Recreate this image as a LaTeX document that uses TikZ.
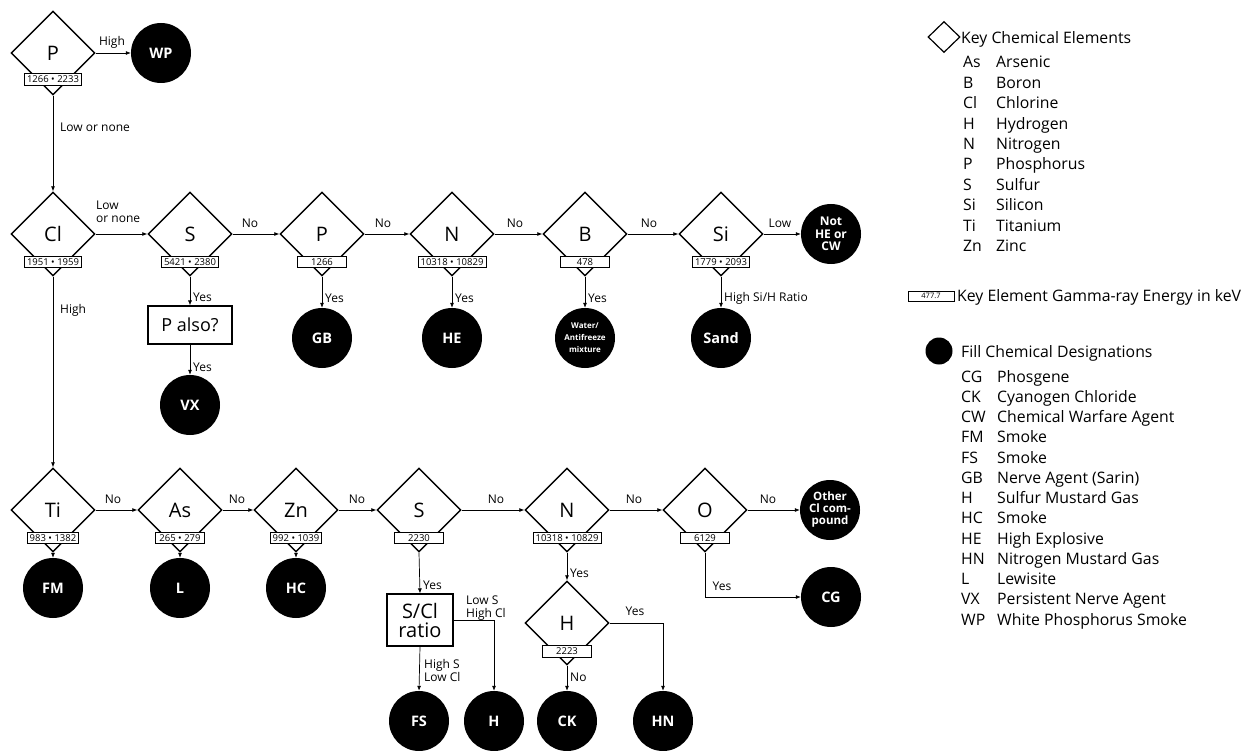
\documentclass[tikz,border=0pt]{standalone}
\usepackage{fontspec}
\setmainfont{Open Sans}
\usetikzlibrary{shapes.geometric,arrows.meta,calc}
\begin{document}
\begin{tikzpicture}[x=1pt,y=-1pt,
 dia/.style={diamond,draw,line width=1.4pt,minimum width=84pt,minimum height=84pt,inner sep=0pt,fill=white,font=\fontsize{20}{22}\selectfont},
 val/.style={draw,line width=0.6pt,fill=white,minimum width=49pt,minimum height=11.5pt,inner xsep=2.5pt,inner ysep=0pt,font=\fontsize{9.5}{9.5}\selectfont},
 res/.style={circle,fill=black,text=white,minimum size=60pt,inner sep=0pt,font=\bfseries\fontsize{14.5}{15}\selectfont,align=center},
 arr/.style={-{Latex[length=5pt,width=4pt]},line width=0.7pt},
 lab/.style={font=\fontsize{12}{13}\selectfont,inner sep=0pt},
 leg/.style={font=\fontsize{15.8}{17}\selectfont,anchor=base west,inner sep=0pt},
 qbox/.style={draw,line width=1.2pt,fill=white,align=center,inner sep=2pt}]
\useasboundingbox (0,0) rectangle (1257,751);

% ---------- top ----------
\node[dia] (P0) at (53,53) {P};
\node[val] (P0v) at (53,79.5) {1266 • 2233};
\node[res] (WP) at (161,53) {WP};

% ---------- row 1 ----------
\node[dia] (Cl) at (53,234) {Cl};
\node[val] (Clv) at (53,262) {1951 • 1959};
\node[dia] (S1) at (190,234) {S};
\node[val] (S1v) at (190,262) {5421 • 2380};
\node[dia] (P1) at (322,234) {P};
\node[val] (P1v) at (322,262) {1266};
\node[dia] (N1) at (452,234) {N};
\node[val] (N1v) at (452,262) {10318 • 10829};
\node[dia] (B1) at (585,234) {B};
\node[val] (B1v) at (585,262) {478};
\node[dia] (Si) at (721,234) {Si};
\node[val] (Siv) at (721,262) {1779 • 2093};
\node[res,font=\bfseries\fontsize{12}{12.5}\selectfont] (NotHE) at (831,234) {Not\\HE or\\CW};

\node[qbox,minimum width=84pt,minimum height=38pt,font=\fontsize{18}{20}\selectfont] (Palso) at (190,325) {P also?};
\node[res] (VX) at (190,405) {VX};
\node[res] (GB) at (322,338) {GB};
\node[res] (HE) at (452,338) {HE};
\node[res,font=\bfseries\fontsize{8}{12}\selectfont] (WA) at (585,338) {Water/\\Antifreeze\\mixture};
\node[res] (Sand) at (721,338) {Sand};

% ---------- row 2 ----------
\node[dia] (Ti) at (53,510) {Ti};
\node[val] (Tiv) at (53,538) {983 • 1382};
\node[dia] (As) at (180,510) {As};
\node[val] (Asv) at (180,538) {265 • 279};
\node[dia] (Zn) at (296,510) {Zn};
\node[val] (Znv) at (296,538) {992 • 1039};
\node[dia] (S2) at (419,510) {S};
\node[val] (S2v) at (419,538) {2230};
\node[dia] (N2) at (567,510) {N};
\node[val] (N2v) at (567,538) {10318 • 10829};
\node[dia] (O2) at (705,510) {O};
\node[val] (O2v) at (705,538) {6129};
\node[res,font=\bfseries\fontsize{11.5}{12}\selectfont] (Other) at (830,510) {Other\\Cl com-\\pound};

\node[res] (FM) at (53,588) {FM};
\node[res] (L) at (180,588) {L};
\node[res] (HC) at (296,588) {HC};
\node[qbox,minimum width=66pt,minimum height=52pt,font=\fontsize{20}{19}\selectfont] (SCl) at (420,620) {S/Cl\\ratio};
\node[dia] (Hd) at (567,623) {H};
\node[val] (Hdv) at (567,651.5) {2223};
\node[res] (FS) at (419,721) {FS};
\node[res] (Hm) at (494,721) {H};
\node[res] (CK) at (567,721) {CK};
\node[res] (HN) at (663,721) {HN};
\node[res] (CG) at (831,597) {CG};

% ---------- connectors ----------
\draw[arr] (P0.east) -- (WP.west);
\draw[arr] (P0.south) -- (Cl.north);
\draw[arr] (Cl.east) -- (S1.west);
\draw[arr] (S1.east) -- (P1.west);
\draw[arr] (P1.east) -- (N1.west);
\draw[arr] (N1.east) -- (B1.west);
\draw[arr] (B1.east) -- (Si.west);
\draw[arr] (Si.east) -- (NotHE.west);
\draw[arr] (S1.south) -- (Palso.north);
\draw[arr] (Palso.south) -- (VX.north);
\draw[arr] (P1.south) -- (GB.north);
\draw[arr] (N1.south) -- (HE.north);
\draw[arr] (B1.south) -- (WA.north);
\draw[arr] (Si.south) -- (Sand.north);
\draw[arr] (Cl.south) -- (Ti.north);

\draw[arr] (Ti.east) -- (As.west);
\draw[arr] (As.east) -- (Zn.west);
\draw[arr] (Zn.east) -- (S2.west);
\draw[arr] (S2.east) -- (N2.west);
\draw[arr] (N2.east) -- (O2.west);
\draw[arr] (O2.east) -- (Other.west);
\draw[arr] (Ti.south) -- (FM.north);
\draw[arr] (As.south) -- (L.north);
\draw[arr] (Zn.south) -- (HC.north);
\draw[arr] (S2.south) -- (SCl.north);
\draw[arr] (SCl.south) -- (FS.north);
\draw[arr] (SCl.east) -| (Hm.north);
\draw[arr] (N2.south) -- (Hd.north);
\draw[arr] (Hd.south) -- (CK.north);
\draw[arr] (Hd.east) -| (HN.north);
\draw[arr] (O2.south) |- (CG.west);

% ---------- labels ----------
\node[lab] (l1) at (112,42) {High};
\node[lab,anchor=west] (l2) at (60,127) {Low or none};
\node[lab,anchor=north west,align=left] (l3) at (96,201) {Low\\or none};
\node[lab] (l4) at (250,223) {No};
\node[lab] (l5) at (383,223) {No};
\node[lab] (l6) at (515,223) {No};
\node[lab] (l7) at (649,223) {No};
\node[lab] (l8) at (780,223) {Low};
\node[lab,anchor=west] (l9) at (193,297) {Yes};
\node[lab,anchor=west] (l10) at (325,298) {Yes};
\node[lab,anchor=west] (l11) at (455,298) {Yes};
\node[lab,anchor=west] (l12) at (588,298) {Yes};
\node[lab,anchor=west] (l13) at (724,298) {High Si/H Ratio};
\node[lab,anchor=west] (l14) at (193,367) {Yes};
\node[lab,anchor=west] (l15) at (60,310) {High};
\node[lab] (l16) at (113,499) {No};
\node[lab] (l17) at (237,499) {No};
\node[lab] (l18) at (357,499) {No};
\node[lab] (l19) at (496,499) {No};
\node[lab] (l20) at (634,499) {No};
\node[lab] (l21) at (768,499) {No};
\node[lab,anchor=west] (l22) at (56,575) {Yes};
\node[lab,anchor=west] (l23) at (183,575) {Yes};
\node[lab,anchor=west] (l24) at (299,575) {Yes};
\node[lab,anchor=west] (l25) at (423,585) {Yes};
\node[lab,anchor=west,align=left] (l26) at (466,608) {Low S\\High Cl};
\node[lab,anchor=west,align=left] (l27) at (424,670) {High S\\Low Cl};
\node[lab,anchor=west] (l28) at (570,573) {Yes};
\node[lab,anchor=west] (l29) at (570,677) {No};
\node[lab] (l30) at (635,611) {Yes};
\node[lab] (l31) at (722,586) {Yes};

% ---------- legend ----------
\node[diamond,draw,line width=1.2pt,minimum width=32pt,minimum height=31pt,inner sep=0pt] (kd) at (944,37) {};
\node[leg] (kt) at (961,44) {Key Chemical Elements};
\foreach \a/\n [count=\i from 0] in {As/Arsenic,B/Boron,Cl/Chlorine,H/Hydrogen,N/Nitrogen,P/Phosphorus,S/Sulfur,Si/Silicon,Ti/Titanium,Zn/Zinc}{
  \node[leg] (ka\i) at (963,68+20.4*\i) {\a};
  \node[leg] (kn\i) at (996,68+20.4*\i) {\n};
}
\node[draw,line width=0.6pt,minimum width=46pt,minimum height=10pt,inner sep=0pt,font=\fontsize{7.5}{7.5}\selectfont] (kb) at (931,296) {477.7};
\node[leg] (kbt) at (957,301) {Key Element Gamma-ray Energy in keV};
\node[circle,fill=black,minimum size=27pt,inner sep=0pt] (kc) at (939,351) {};
\node[leg] (kct) at (961,357) {Fill Chemical Designations};
\foreach \a/\n [count=\i from 0] in {CG/Phosgene,CK/Cyanogen Chloride,CW/Chemical Warfare Agent,FM/Smoke,FS/Smoke,GB/Nerve Agent (Sarin),H/Sulfur Mustard Gas,HC/Smoke,HE/High Explosive,HN/Nitrogen Mustard Gas,L/Lewisite,VX/Persistent Nerve Agent,WP/White Phosphorus Smoke}{
  \node[leg] (fa\i) at (961,382+20.25*\i) {\a};
  \node[leg] (fn\i) at (997,382+20.25*\i) {\n};
}
\end{tikzpicture}
\end{document}
